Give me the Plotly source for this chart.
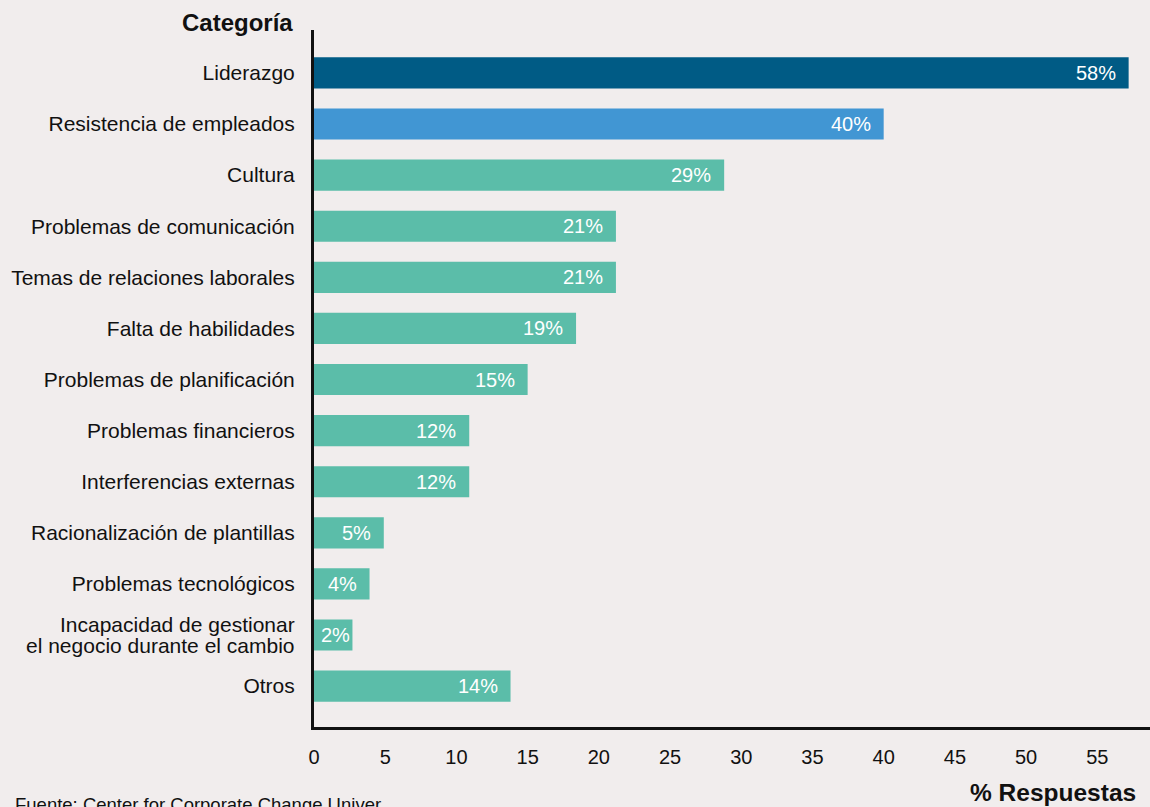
import plotly.graph_objects as go

categorias = ["Liderazgo", "Resistencia de empleados", "Cultura", "Problemas de comunicación",
              "Temas de relaciones laborales", "Falta de habilidades", "Problemas de planificación",
              "Problemas financieros", "Interferencias externas", "Racionalización de plantillas",
              "Problemas tecnológicos", "Incapacidad de gestionar<br>el negocio durante el cambio", "Otros"]
valores = [57.2, 40.0, 28.8, 21.2, 21.2, 18.4, 15.0, 10.9, 10.9, 4.9, 3.9, 2.7, 13.8]
etiquetas = ["58%", "40%", "29%", "21%", "21%", "19%", "15%", "12%", "12%", "5%", "4%", "2%", "14%"]
colores = ["#005b85", "#4196d3"] + ["#5bbda9"] * 11
x_ticks = [0, 5, 10, 15, 20, 25, 30, 35, 40, 45, 50, 55]

pos = list(range(len(categorias)))
BG = "#f1eded"
FONT = "Liberation Sans, Arial, sans-serif"

fig = go.Figure(go.Bar(
    x=valores, y=pos, orientation="h", marker=dict(color=colores, line=dict(width=0)),
    width=0.61, hoverinfo="skip"))

for p, v, t in zip(pos, valores, etiquetas):
    if v < 3:
        fig.add_annotation(x=0, y=p, text=t, showarrow=False, xanchor="left", yanchor="middle",
                           xshift=5, font=dict(color="white", size=20, family=FONT))
    else:
        fig.add_annotation(x=v, y=p, text=t, showarrow=False, xanchor="right", yanchor="middle",
                           xshift=-11, font=dict(color="white", size=20, family=FONT))

# category labels: single-line ones as tick labels, multi-line drawn with tighter spacing
ticktext = [c if "<br>" not in c else "" for c in categorias]
for p, c in zip(pos, categorias):
    if "<br>" in c:
        lines = c.split("<br>")
        n = len(lines)
        for i, ln in enumerate(lines):
            fig.add_annotation(xref="paper", yref="y", x=-17/836, y=p, text=ln, showarrow=False,
                               xanchor="right", yanchor="middle",
                               yshift=(n - 1) / 2 * 21 - i * 21,
                               font=dict(size=21, color="#111111", family=FONT))

fig.update_layout(
    width=1150, height=807, paper_bgcolor=BG, plot_bgcolor=BG,
    margin=dict(l=314, r=0, t=30, b=80), showlegend=False,
    font=dict(family=FONT, color="#111111"),
    xaxis=dict(range=[0, 58.7], tickvals=x_ticks, showgrid=False, zeroline=False,
               showline=True, linecolor="#111111", linewidth=3, ticks="",
               ticklabelstandoff=10, tickfont=dict(size=20, color="#111111")),
    yaxis=dict(range=[12.8, -0.84], tickvals=pos, ticktext=ticktext, showgrid=False,
               zeroline=False, showline=True, linecolor="#111111", linewidth=3, ticks="",
               ticklabelstandoff=12, tickfont=dict(size=21, color="#111111")),
)

fig.add_annotation(xref="paper", yref="paper", x=-19/836, y=1, yshift=8, text="<b>Categoría</b>",
                   showarrow=False, xanchor="right", yanchor="middle",
                   font=dict(size=24, color="#111111", family=FONT))
fig.add_annotation(xref="paper", yref="paper", x=(1138 - 314) / 836, y=0,
                   yshift=-65, text="<b>% Respuestas</b>", showarrow=False, xanchor="right",
                   yanchor="middle", font=dict(size=24.5, color="#111111", family=FONT))
fig.add_annotation(xref="paper", yref="paper", x=-301/836, y=0, yshift=-90,
                   text="Fuente: Center for Corporate Change Univer", showarrow=False,
                   xanchor="left", yanchor="bottom", font=dict(size=18.5, color="#111111", family=FONT))

fig.write_html("out.html")
